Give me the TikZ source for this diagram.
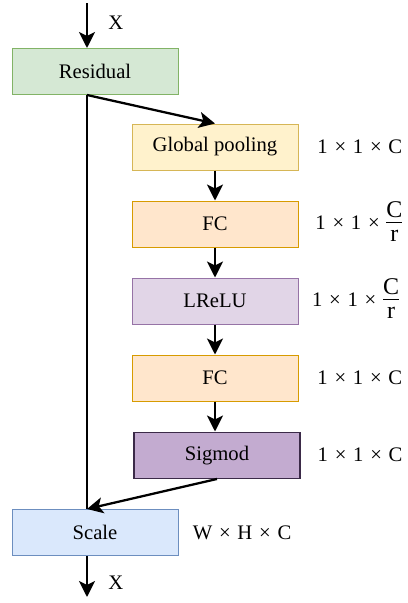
\documentclass[tikz,border=0pt]{standalone}
\usepackage{fontspec}
\setmainfont{Liberation Serif}
\usepackage{tikz}
\usetikzlibrary{calc, positioning, arrows.meta}

\definecolor{resfill}{HTML}{D5E8D4}
\definecolor{resdraw}{HTML}{82B366}
\definecolor{poolfill}{HTML}{FFF2CC}
\definecolor{pooldraw}{HTML}{D6B656}
\definecolor{fcfill}{HTML}{FFE6CC}
\definecolor{fcdraw}{HTML}{D79B00}
\definecolor{relufill}{HTML}{E1D5E7}
\definecolor{reludraw}{HTML}{9673A6}
\definecolor{sigfill}{HTML}{C3ABD0}
\definecolor{sigdraw}{HTML}{3B2A48}
\definecolor{scalefill}{HTML}{DAE8FC}
\definecolor{scaledraw}{HTML}{6C8EBF}

\newcommand{\by}{\hspace{1.2pt} × \hspace{1.2pt}}
\newcommand{\crfrac}{{\fontsize{18pt}{21pt}\selectfont\begin{tabular}{@{}c@{}}C\\[-3pt]\hline\rule{0pt}{14pt}r\end{tabular}}}

\begin{document}
\begin{tikzpicture}[x=0.75pt, y=-0.75pt, node distance=22.5pt, font=\fontsize{15.5pt}{18pt}\selectfont]

    \tikzstyle{block} = [rectangle, draw, line width=0.75pt, minimum width=124.5pt, minimum height=34.5pt, text centered]
    \tikzstyle{size} = [anchor=west, inner sep=0pt]
    \tikzstyle{line} = [draw, line width=1.7pt, -{Stealth[length=12pt, width=12pt, inset=3pt]}]
    \tikzstyle{plain_line} = [draw, line width=1.7pt]

    \useasboundingbox (0,0) rectangle (407,603);

    \node [block, fill=resfill, draw=resdraw] (residual) at (95,71.5) {Residual};
    \node [block, fill=poolfill, draw=pooldraw] (pool) at (215,147) {Global pooling};
    \node [block, fill=fcfill, draw=fcdraw, below=of pool] (fc1) {FC};
    \node [block, fill=relufill, draw=reludraw, below=of fc1] (lrelu) {LReLU};
    \node [block, fill=fcfill, draw=fcdraw, below=of lrelu] (fc2) {FC};
    \node [block, fill=sigfill, draw=sigdraw, line width=1.1pt, below=of fc2, xshift=1.5pt] (sigmod) {Sigmod};
    \node [block, fill=scalefill, draw=scaledraw] (scale) at (95,532.5) {Scale};

    \node [size, right=14pt of pool] (pool_size) {1\by 1\by C};
    \node [size, right=12.5pt of fc1] (fc1_size) {1\by 1\by\crfrac};
    \node [size, right=10pt of lrelu] (lrelu_size) {1\by 1\by\crfrac};
    \node [size, right=14pt of fc2] (fc2_size) {1\by 1\by C};
    \node [size, right=12.5pt of sigmod] (sigmod_size) {1\by 1\by C};
    \node [size, right=10.5pt of scale] (scale_size) {W\by H\by C};

    \coordinate (split) at ($(residual.south)+(-8,0)$);
    \coordinate (input) at (87,3);
    \coordinate (output) at (87,597);

    \node [anchor=west, inner sep=0pt] (x_in) at (108,23) {X};
    \node [anchor=west, inner sep=0pt] (x_out) at (108,583) {X};

    \path [line] (input) -- (split |- residual.north);
    \path [plain_line] (split) -- (split |- scale.north);
    \path [line] (split) -- (pool.north);
    \path [line] (pool) -- (fc1);
    \path [line] (fc1) -- (lrelu);
    \path [line] (lrelu) -- (fc2);
    \path [line] (fc2) -- (sigmod.north -| fc2.south);
    \path [line] (sigmod.south) -- (split |- scale.north);
    \path [line] (split |- scale.south) -- (output);
\end{tikzpicture}
\end{document}
